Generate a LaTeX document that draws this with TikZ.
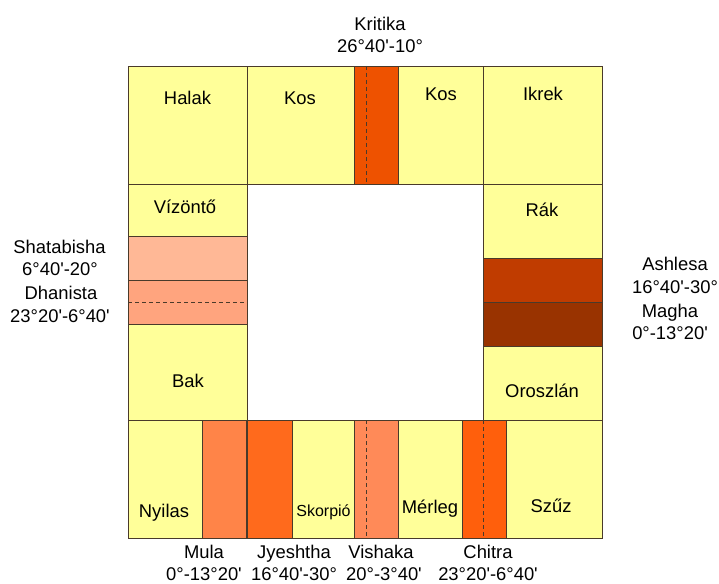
\documentclass[tikz,border=0pt]{standalone}
\usepackage{fontspec}
\setmainfont{Liberation Sans}[Ligatures=TeXOff]
\definecolor{yel}{HTML}{FFFF99}
\definecolor{kritc}{HTML}{EE5200}
\definecolor{shac}{HTML}{FFB896}
\definecolor{dhac}{HTML}{FFA47E}
\definecolor{ashc}{HTML}{C03C00}
\definecolor{magc}{HTML}{993300}
\definecolor{mulc}{HTML}{FF8448}
\definecolor{jyec}{HTML}{FF6A1C}
\definecolor{visc}{HTML}{FF8A58}
\definecolor{chic}{HTML}{FF5F0C}
\definecolor{linec}{HTML}{4A3A2A}
\tikzset{
  cell/.style={draw=linec, line width=0.8pt},
  dline/.style={draw=linec, line width=0.7pt, dash pattern=on 4pt off 3pt},
  lbl/.style={font=\fontsize{18.4}{21}\selectfont, inner sep=0pt, text=black, anchor=base},
  slbl/.style={font=\fontsize{16}{18}\selectfont, inner sep=0pt, text=black, anchor=base}
}
\begin{document}
\begin{tikzpicture}[x=1pt,y=-1pt]
\useasboundingbox (0,0) rectangle (719,583);
% top row
\path[cell,fill=yel] (128,66) rectangle (247,184);
\path[cell,fill=yel] (247,66) rectangle (354,184);
\path[cell,fill=kritc] (354,66) rectangle (398,184);
\path[cell,fill=yel] (398,66) rectangle (483,184);
\path[cell,fill=yel] (483,66) rectangle (602,184);
\path[dline] (366,66) -- (366,184);
% left column
\path[cell,fill=yel] (128,184) rectangle (247,236);
\path[cell,fill=shac] (128,236) rectangle (247,280);
\path[cell,fill=dhac] (128,280) rectangle (247,324);
\path[dline] (128,302) -- (247,302);
\path[cell,fill=yel] (128,324) rectangle (247,420);
% right column
\path[cell,fill=yel] (483,184) rectangle (602,258);
\path[cell,fill=ashc] (483,258) rectangle (602,302);
\path[cell,fill=magc] (483,302) rectangle (602,346);
\path[cell,fill=yel] (483,346) rectangle (602,420);
% bottom row
\path[cell,fill=yel] (128,420) rectangle (202,538);
\path[cell,fill=mulc] (202,420) rectangle (247,538);
\path[cell,fill=jyec] (247,420) rectangle (292,538);
\path[draw=linec,line width=1.6pt] (247,420) -- (247,538);
\path[cell,fill=yel] (292,420) rectangle (354,538);
\path[cell,fill=visc] (354,420) rectangle (398,538);
\path[dline] (366,420) -- (366,538);
\path[cell,fill=yel] (398,420) rectangle (462,538);
\path[cell,fill=chic] (462,420) rectangle (506,538);
\path[dline] (483,420) -- (483,538);
\path[cell,fill=yel] (506,420) rectangle (602,538);
% cell labels
\node[lbl] (halak) at (187.5,104) {Halak};
\node[lbl] (kos1) at (300,104) {Kos};
\node[lbl] (kos2) at (441,101) {Kos};
\node[lbl] (ikrek) at (543,101) {Ikrek};
\node[lbl] (vizonto) at (185,213) {Vízöntő};
\node[lbl] (bak) at (188,387) {Bak};
\node[lbl] (rak) at (542,216) {Rák};
\node[lbl] (oroszlan) at (542,397) {Oroszlán};
\node[lbl] (nyilas) at (164,517) {Nyilas};
\node[slbl] (skorpio) at (323.5,516) {Skorpió};
\node[lbl] (merleg) at (430,513) {Mérleg};
\node[lbl] (szuz) at (551,512) {Szűz};
% outer labels
\node[lbl] (krit) at (380,31) {Kritika};
\node[lbl] (kritd) at (380,53) {26°40'-10°};
\node[lbl] (shat) at (59.5,253) {Shatabisha};
\node[lbl] (shatd) at (60,275) {6°40'-20°};
\node[lbl] (dhan) at (61,299) {Dhanista};
\node[lbl] (dhand) at (60,322) {23°20'-6°40'};
\node[lbl] (ashl) at (675,270) {Ashlesa};
\node[lbl] (ashld) at (675,293) {16°40'-30°};
\node[lbl] (magh) at (670,317) {Magha};
\node[lbl] (maghd) at (670,339) {0°-13°20'};
\node[lbl] (mula) at (204,558) {Mula};
\node[lbl] (mulad) at (204,580) {0°-13°20'};
\node[lbl] (jyes) at (294,558) {Jyeshtha};
\node[lbl] (jyesd) at (294,580) {16°40'-30°};
\node[lbl] (vish) at (381,558) {Vishaka};
\node[lbl] (vishd) at (384,580) {20°-3°40'};
\node[lbl] (chit) at (488,558) {Chitra};
\node[lbl] (chitd) at (488,580) {23°20'-6°40'};
\end{tikzpicture}
\end{document}
